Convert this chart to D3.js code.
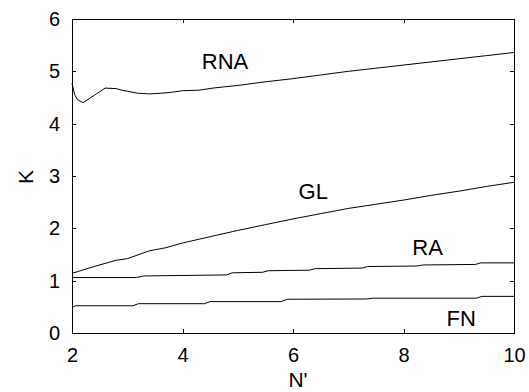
<!DOCTYPE html>
<html>
<head>
<meta charset="utf-8">
<script src="https://cdn.jsdelivr.net/npm/d3@7"></script>
<style>
  body { margin: 0; background: #fff; }
  text { font-family: "Liberation Sans", Arial, sans-serif; fill: #000; }
</style>
</head>
<body>
<div id="chart"></div>
<script>
// curve data
var rnaX = [2, 2.05, 2.1, 2.2, 2.4, 2.6, 2.8, 2.9, 3.0, 3.2, 3.4, 3.6, 3.8, 4.0, 4.3, 4.55, 5.0, 5.5, 6.0, 6.5, 7.0, 7.5, 8.0, 8.5, 9.0, 9.5, 10];
var rnaK = [4.77, 4.55, 4.46, 4.40, 4.54, 4.68, 4.67, 4.64, 4.62, 4.58, 4.57, 4.58, 4.60, 4.63, 4.64, 4.68, 4.73, 4.80, 4.86, 4.93, 5.00, 5.06, 5.12, 5.18, 5.24, 5.30, 5.36];

var glX = [2, 2.4, 2.8, 3.0, 3.4, 3.7, 4.0, 4.5, 5.0, 5.5, 6.0, 6.5, 7.0, 7.5, 8.0, 8.5, 9.0, 9.5, 10];
var glK = [1.14, 1.27, 1.39, 1.42, 1.57, 1.63, 1.72, 1.84, 1.96, 2.07, 2.18, 2.28, 2.38, 2.46, 2.54, 2.63, 2.71, 2.80, 2.88];

var raX = [2, 3.17, 3.3, 4.8, 4.9, 5.45, 5.55, 6.3, 6.4, 7.25, 7.35, 8.25, 8.35, 9.3, 9.4, 10];
var raK = [1.06, 1.06, 1.09, 1.11, 1.15, 1.16, 1.19, 1.20, 1.23, 1.24, 1.27, 1.28, 1.30, 1.31, 1.34, 1.34];

var fnX = [2, 2.06, 3.1, 3.2, 4.4, 4.5, 5.78, 5.9, 7.33, 7.45, 9.32, 9.42, 10];
var fnK = [0.49, 0.52, 0.52, 0.56, 0.56, 0.60, 0.60, 0.645, 0.65, 0.665, 0.665, 0.70, 0.70];

var xTicks = [2, 4, 6, 8, 10];
var yTicks = [0, 1, 2, 3, 4, 5, 6];

// curve names and where they sit (data units)
var labelNames = ["RNA", "GL", "RA", "FN"];
var labelX = [4.35, 6.1, 8.16, 8.78];
var labelK = [5.04, 2.56, 1.5, 0.13];

var svgWidth = 529;
var svgHeight = 392;
var margin = { top: 19, right: 15, bottom: 59, left: 72 };
var width = svgWidth - margin.left - margin.right;
var height = svgHeight - margin.top - margin.bottom;

var svg = d3.select("#chart")
  .append("svg")
  .attr("width", svgWidth)
  .attr("height", svgHeight);

var chartGroup = svg.append("g")
  .attr("transform", `translate(${margin.left}, ${margin.top})`);

var xScale = d3.scaleLinear().domain([2, 10]).range([0, width]);
var yScale = d3.scaleLinear().domain([0, 6]).range([height, 0]);

// inward ticks on all four sides, matlab style box
var tickLen = 4;
function styleAxis(g) {
  g.select(".domain").remove();
  g.selectAll("line").attr("stroke", "#000").attr("shape-rendering", "crispEdges");
  g.selectAll("text").style("font-size", "20px");
}

chartGroup.append("g")
  .attr("transform", `translate(0, ${height})`)
  .call(d3.axisBottom(xScale).tickValues(xTicks).tickSize(-tickLen).tickPadding(15).tickFormat(d3.format("d")))
  .call(styleAxis);

chartGroup.append("g")
  .call(d3.axisTop(xScale).tickValues(xTicks).tickSize(-tickLen).tickFormat(""))
  .call(styleAxis);

chartGroup.append("g")
  .call(d3.axisLeft(yScale).tickValues(yTicks).tickSize(-tickLen).tickPadding(12).tickFormat(d3.format("d")))
  .call(styleAxis);

chartGroup.append("g")
  .attr("transform", `translate(${width}, 0)`)
  .call(d3.axisRight(yScale).tickValues(yTicks).tickSize(-tickLen).tickFormat(""))
  .call(styleAxis);

chartGroup.append("rect")
  .attr("x", 0)
  .attr("y", 0)
  .attr("width", width)
  .attr("height", height)
  .attr("fill", "none")
  .attr("stroke", "#000")
  .attr("stroke-width", 1)
  .attr("shape-rendering", "crispEdges");

// curves
var line = d3.line()
  .x(d => xScale(d[0]))
  .y(d => yScale(d[1]));

var curves = [[rnaX, rnaK], [glX, glK], [raX, raK], [fnX, fnK]];
curves.forEach(function(c) {
  var pts = c[0].map((x, i) => [x, c[1][i]]);
  chartGroup.append("path")
    .datum(pts)
    .attr("d", line)
    .attr("fill", "none")
    .attr("stroke", "#000")
    .attr("stroke-width", 1);
});

// curve labels
chartGroup.selectAll(".clabel")
  .data(labelNames)
  .enter()
  .append("text")
  .attr("class", "clabel")
  .attr("x", (d, i) => xScale(labelX[i]))
  .attr("y", (d, i) => yScale(labelK[i]))
  .style("font-size", "22px")
  .text(d => d);

// axis labels
svg.append("text")
  .attr("transform", "translate(33, 177) rotate(-90)")
  .style("text-anchor", "middle")
  .style("font-size", "21px")
  .text("K");

svg.append("text")
  .attr("x", 298)
  .attr("y", 387)
  .style("text-anchor", "middle")
  .style("font-size", "21px")
  .text("N'");
</script>
</body>
</html>
